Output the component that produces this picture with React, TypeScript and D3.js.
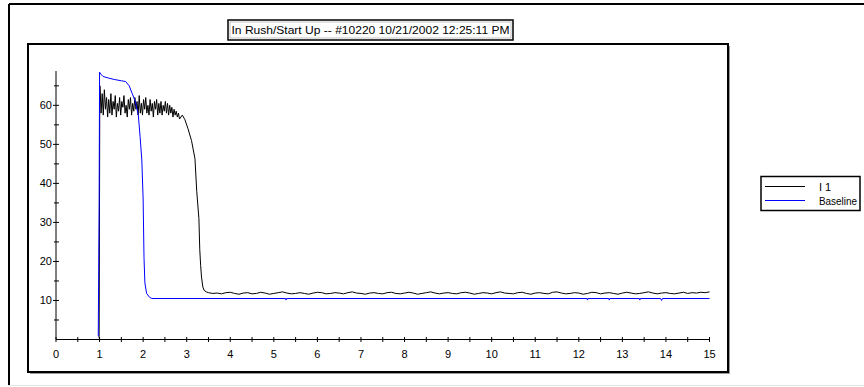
import React from "react";
import * as d3 from "d3";

const TITLE = "In Rush/Start Up -- #10220 10/21/2002 12:25:11 PM";
const X_TICKS = [0, 1, 2, 3, 4, 5, 6, 7, 8, 9, 10, 11, 12, 13, 14, 15];
const Y_TICKS = [10, 20, 30, 40, 50, 60];
const LEGEND = ["I 1", "Baseline"];

// I 1 trace: rise, noisy plateau (sampled every 0.025 s), fall, tail (every 0.1 s)
const i1RiseTime = [0.99, 1.0, 1.005];
const i1Rise = [0.3, 40, 65];
const i1PlateauStart = 1.01;
const i1PlateauStep = 0.025;
const i1Plateau = [
  65, 58, 63, 57.5, 64, 59, 62, 57, 61.5, 58,
  63, 57.5, 61, 59, 62.5, 57, 60.5, 58.5, 62, 57.5,
  61, 59.5, 62.5, 58, 60, 57, 61.5, 59, 62, 57.5,
  60.5, 58.5, 62, 59, 61, 57.5, 62.5, 58, 60.5, 57.5,
  61.5, 59, 62, 58, 60, 57.5, 61.5, 58.5, 60.5, 57,
  61, 59, 61.5, 57.5, 60.5, 58, 61, 57.5, 60, 58.5,
  61, 58, 60.5, 57.5, 60, 58, 59.5, 57, 59, 57.5,
  58.5, 57, 58, 56.5,
];
const i1FallTime = [2.9, 2.96, 3.03, 3.11, 3.19, 3.23, 3.28, 3.3, 3.32, 3.34, 3.37, 3.4, 3.45];
const i1Fall = [57.5, 56.3, 54, 51, 46.3, 38, 31, 23, 19, 16, 13.5, 12.6, 12.2];
const i1TailStart = 3.5;
const i1TailStep = 0.1;
const i1Tail = [
  12.0, 11.8, 11.9, 11.7, 12.0, 12.1, 11.8, 11.6, 11.9, 12.0,
  11.7, 11.8, 12.1, 11.9, 11.6, 11.8, 12.0, 12.2, 11.9, 11.7,
  11.8, 12.0, 11.8, 11.6, 11.9, 12.1, 12.0, 11.7, 11.8, 12.0,
  11.9, 11.7, 12.0, 12.2, 11.9, 11.8, 11.6, 11.9, 12.0, 11.8,
  11.7, 12.0, 12.1, 11.8, 11.7, 11.9, 12.1, 11.9, 11.6, 11.8,
  12.0, 12.2, 11.9, 11.7, 11.9, 12.0, 11.8, 11.7, 12.0, 12.1,
  11.9, 11.6, 11.8, 12.0, 11.9, 11.7, 12.0, 12.2, 11.9, 11.8,
  11.7, 12.0, 12.1, 11.8, 11.6, 11.9, 12.0, 11.8, 11.7, 12.1,
  12.2, 11.9, 11.7, 11.8, 12.0, 11.9, 11.6, 11.8, 12.1, 12.0,
  11.7, 11.9, 12.0, 11.8, 11.6, 11.9, 12.1, 11.9, 11.7, 11.8,
  12.0, 12.2, 11.9, 11.7, 11.9, 12.0, 11.8, 11.7, 11.9, 12.1,
  11.8, 12.0, 11.9, 12.1, 12.0, 12.2,
];

// Baseline trace
const baselineTime = [
  0.97, 0.99, 1.0, 1.03, 1.08, 1.2, 1.35, 1.5, 1.6, 1.68, 1.75, 1.82, 1.89,
  1.93, 1.97, 2.0, 2.02, 2.04, 2.08, 2.15, 2.2, 5.27, 5.28, 5.29,
  12.19, 12.2, 12.21, 12.69, 12.7, 12.71, 13.39, 13.4, 13.41, 13.88, 13.9, 13.92, 15,
];
const baseline = [
  0.8, 35, 68.5, 68, 67.4, 67, 66.6, 66.3, 66.1, 65, 63, 61, 57.5,
  52, 46, 36, 21, 14.5, 11.8, 10.8, 10.5, 10.5, 10.1, 10.5,
  10.5, 10.1, 10.5, 10.5, 10.1, 10.5, 10.5, 10.1, 10.5, 10.5, 10.0, 10.5, 10.5,
];

type Pt = [number, number];

function i1Points(): Pt[] {
  const pts: Pt[] = [];
  i1RiseTime.forEach((t, i) => pts.push([t, i1Rise[i]]));
  i1Plateau.forEach((v, i) => pts.push([i1PlateauStart + i * i1PlateauStep, v]));
  i1FallTime.forEach((t, i) => pts.push([t, i1Fall[i]]));
  i1Tail.forEach((v, i) => pts.push([i1TailStart + i * i1TailStep, v]));
  return pts;
}

const font = "'Liberation Sans', Arial, sans-serif";

export default function App() {
  const x = d3.scaleLinear().domain([0, 15]).range([56, 709.5]);
  const y = d3.scaleLinear().domain([0, 68.8]).range([339.5, 71]);

  const line = d3
    .line<Pt>()
    .x((d) => x(d[0]))
    .y((d) => y(d[1]));

  const baselinePts: Pt[] = baselineTime.map((t, i) => [t, baseline[i]]);

  const xMinor = d3.range(0.5, 15, 1);
  const yMinor = d3.range(5, 66, 10);

  return (
    <svg
      width={864}
      height={387}
      style={{ position: "absolute", left: 0, top: 0, background: "#fff" }}
      fontFamily={font}
    >
      {/* outer sunken frame */}
      <line x1={9} y1={4} x2={864} y2={4} stroke="#000" strokeWidth={2} />
      <line x1={9} y1={4} x2={9} y2={385} stroke="#000" strokeWidth={2} />
      <line x1={8} y1={385.5} x2={864} y2={385.5} stroke="#e4e4e4" strokeWidth={1} />

      {/* title */}
      <rect x={228} y={20} width={285} height={20} fill="#fff" stroke="#000" strokeWidth={1.5} />
      <rect x={230} y={22} width={281} height={16} fill="none" stroke="#888" strokeWidth={0.5} />
      <text x={370.5} y={34} fontSize={11} textAnchor="middle" textLength={278} lengthAdjust="spacingAndGlyphs">
        {TITLE}
      </text>

      {/* plot frame */}
      <rect x={28} y={44} width={700} height={328} fill="none" stroke="#000" strokeWidth={2} />
      <line x1={30} y1={373.5} x2={729} y2={373.5} stroke="#999" strokeWidth={1} />
      <line x1={729.5} y1={46} x2={729.5} y2={374} stroke="#999" strokeWidth={1} />

      {/* axes */}
      <line x1={x(0)} y1={y(0)} x2={x(15)} y2={y(0)} stroke="#000" strokeWidth={1} />
      <line x1={x(0)} y1={y(0)} x2={x(0)} y2={71} stroke="#000" strokeWidth={1} />
      {X_TICKS.map((t) => (
        <g key={"xt" + t}>
          <line x1={x(t)} y1={y(0) - 2.5} x2={x(t)} y2={y(0) + 2.5} stroke="#000" />
          <text x={x(t)} y={358} fontSize={11} textAnchor="middle" fill="#000">
            {t}
          </text>
        </g>
      ))}
      {xMinor.map((t) => (
        <line key={"xm" + t} x1={x(t)} y1={y(0) - 2.5} x2={x(t)} y2={y(0) + 2.5} stroke="#000" />
      ))}
      {Y_TICKS.map((v) => (
        <g key={"yt" + v}>
          <line x1={x(0) - 3} y1={y(v)} x2={x(0) + 3} y2={y(v)} stroke="#000" />
          <text x={52} y={y(v) + 4} fontSize={11} textAnchor="end" fill="#000">
            {v}
          </text>
        </g>
      ))}
      {yMinor.map((v) => (
        <line key={"ym" + v} x1={x(0) - 2} x2={x(0) + 3} y1={y(v)} y2={y(v)} stroke="#000" />
      ))}

      {/* series */}
      <path d={line(i1Points()) || ""} fill="none" stroke="#000" strokeWidth={1} />
      <path d={line(baselinePts) || ""} fill="none" stroke="#0000ff" strokeWidth={1} />

      {/* legend */}
      <rect x={761} y={176.5} width={99} height={34} fill="#fff" stroke="#000" strokeWidth={1.5} />
      <line x1={765} x2={805} y1={186.5} y2={186.5} stroke="#000" />
      <line x1={765} x2={805} y1={200.5} y2={200.5} stroke="#0000ff" />
      <text x={819} y={190.5} fontSize={11}>
        {LEGEND[0]}
      </text>
      <text x={819} y={204.5} fontSize={11} textLength={38} lengthAdjust="spacingAndGlyphs">
        {LEGEND[1]}
      </text>
    </svg>
  );
}
